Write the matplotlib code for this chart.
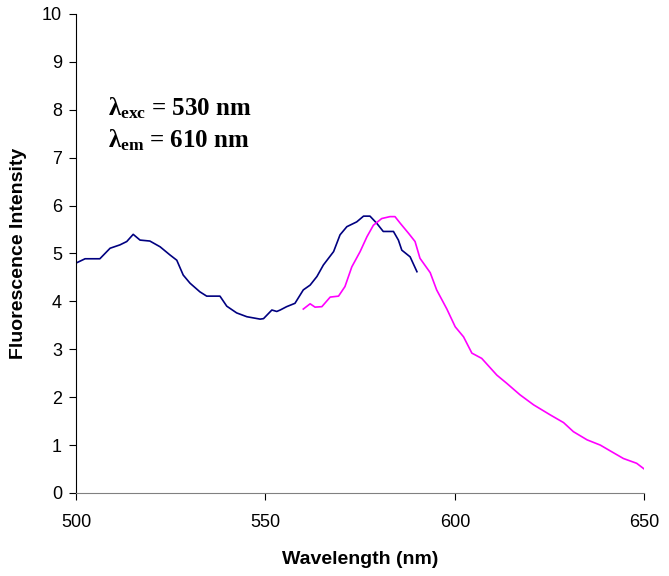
import numpy as np
import matplotlib
matplotlib.use('Agg')
from matplotlib import pyplot as plt

matplotlib.rcParams.update({'font.family': 'Liberation Sans',
                            'mathtext.fontset': 'custom',
                            'mathtext.rm': 'Liberation Serif:bold',
                            'mathtext.it': 'Liberation Serif:bold',
                            'mathtext.bf': 'Liberation Serif:bold'})

# excitation spectrum (dark blue)
wl_exc = [500, 502.4, 506.3, 509, 511.6, 513.4, 515.1, 516.9, 519.5, 522.2,
          524.8, 526.6, 528.3, 530.1, 532.7, 534.5, 538, 539.8, 542.4, 545.1,
          548.6, 549.5, 551.7, 553, 553.9, 555.6, 557.8, 560, 561.8, 563.6,
          565.3, 568, 569.7, 571.5, 574.1, 575.9, 577.6, 579.4, 581.1, 583.8,
          585.1, 586, 588.2, 590]
I_exc = [4.80, 4.89, 4.89, 5.11, 5.18, 5.25, 5.40, 5.28, 5.26, 5.14,
         4.97, 4.86, 4.55, 4.38, 4.20, 4.11, 4.11, 3.90, 3.76, 3.68,
         3.63, 3.64, 3.82, 3.79, 3.82, 3.89, 3.96, 4.24, 4.34, 4.52,
         4.76, 5.04, 5.39, 5.56, 5.66, 5.78, 5.78, 5.63, 5.46, 5.46,
         5.28, 5.07, 4.93, 4.62]

# emission spectrum (magenta)
wl_em = [560, 561.8, 563.1, 564.9, 567.1, 569.3, 571, 572.8, 575, 576.8,
         578.5, 580.7, 582.9, 584.2, 585.6, 587.8, 589.5, 590.8, 593.5, 595.2,
         597.9, 600.1, 602.3, 604.5, 607.1, 611.1, 613.7, 617.2, 620.8, 625.2,
         628.7, 631.3, 634.9, 638.4, 641, 644.5, 648, 650]
I_em = [3.84, 3.95, 3.88, 3.89, 4.09, 4.11, 4.31, 4.72, 5.04, 5.35,
        5.59, 5.73, 5.77, 5.77, 5.63, 5.42, 5.25, 4.90, 4.60, 4.24,
        3.84, 3.47, 3.26, 2.92, 2.81, 2.46, 2.29, 2.05, 1.84, 1.63,
        1.47, 1.28, 1.11, 1.00, 0.88, 0.72, 0.62, 0.50]

fig = plt.figure(figsize=(6.69, 5.76), dpi=100)
ax = fig.add_axes([0.1136, 0.1441, 0.963 - 0.1136, 0.9757 - 0.1441])

ax.plot(wl_exc, I_exc, color='#000080', lw=1.2)
ax.plot(wl_em, I_em, color='#FF00FF', lw=1.2)

ax.set_xlim(500, 650)
ax.set_ylim(0, 10)
ax.set_xticks([500, 550, 600, 650])
ax.set_yticks(range(0, 11))
ax.tick_params(direction='out', length=5, width=0.8, labelsize=13, pad=5)
ax.tick_params(axis='x', pad=10)

ax.spines['top'].set_visible(False)
ax.spines['right'].set_visible(False)
ax.spines['bottom'].set_color('#808080')
ax.spines['left'].set_color('black')

ax.set_xlabel('Wavelength (nm)', fontsize=14, fontweight='bold')
ax.set_ylabel('Fluorescence Intensity', fontsize=14, fontweight='bold')
ax.xaxis.set_label_coords(0.5, -0.122)
ax.yaxis.set_label_coords(-0.086, 0.5)

ax.text(508.4, 7.89, r'$\lambda_{exc}$ = 530 nm', family='Liberation Serif',
        fontweight='bold', fontsize=18, va='baseline')
ax.text(508.4, 7.22, r'$\lambda_{em}$ = 610 nm', family='Liberation Serif',
        fontweight='bold', fontsize=18, va='baseline')

plt.savefig('out.png', dpi=100)
